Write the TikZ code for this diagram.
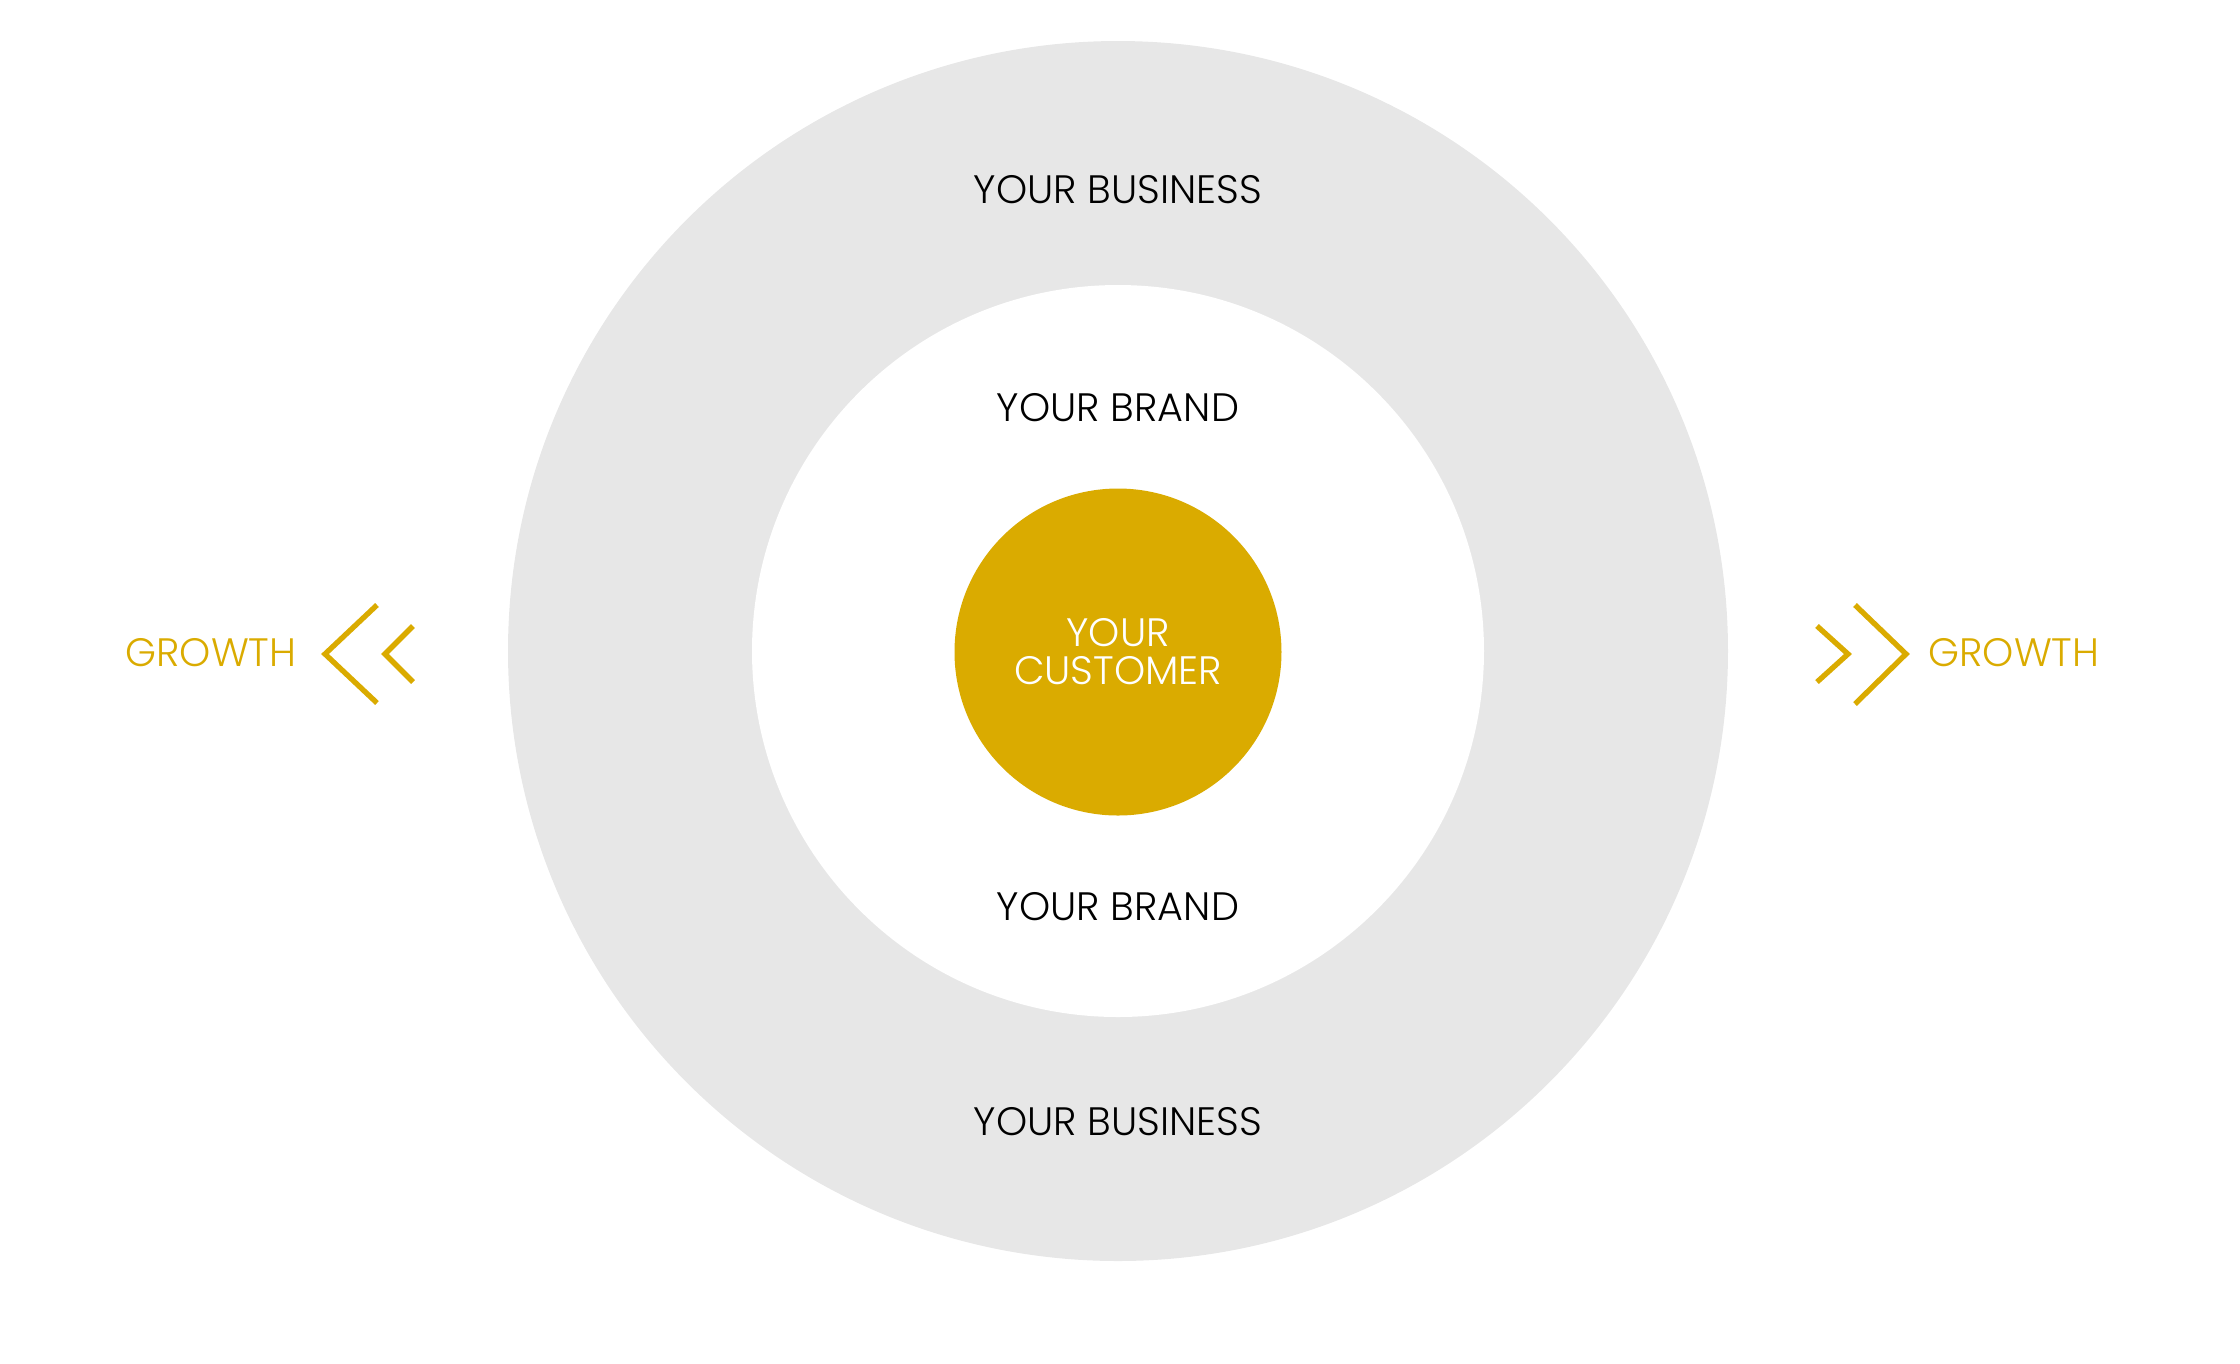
\documentclass[tikz,border=0pt]{standalone}
\usepackage{fontspec}
\setmainfont{Poppins Light}
\usepackage{xcolor}
\usetikzlibrary{positioning, calc}
\definecolor{gold}{HTML}{DAAB00}
\definecolor{ringgrey}{HTML}{E7E7E7}

\begin{document}
\begin{tikzpicture}[x=0.3pt, y=-0.3pt,
        txt/.style={font=\fontsize{11.9}{11.4}\selectfont, align=center, inner sep=0pt},
        chev/.style={draw=gold, line width=1.6pt, miter limit=10}]
        \useasboundingbox (0,0) rectangle (2240,1363);

        \node[circle, fill=ringgrey, minimum size=366pt, inner sep=0pt] at (1118,651) (business) {};
        \node[circle, fill=white, minimum size=219.6pt, inner sep=0pt] at (1118,651) (brand) {};
        \node[circle, fill=gold, minimum size=98.1pt, inner sep=0pt, txt, text=white] at (1118,652) (customer) {YOUR\\CUSTOMER};

        \node[txt] at (1118,190) (bus1) {YOUR BUSINESS};
        \node[txt] at (1118,408) (brand1) {YOUR BRAND};
        \node[txt] at (1118,907) (brand2) {YOUR BRAND};
        \node[txt] at (1118,1122) (bus2) {YOUR BUSINESS};

        \node[txt, text=gold] at (211,653) (growthL) {GROWTH};
        \draw[chev] (377,605) -- (325,654) -- (377,703);
        \draw[chev] (413,626) -- (385,654) -- (413,682);

        \node[txt, text=gold] at (2014,653) (growthR) {GROWTH};
        \draw[chev] (1817,626) -- (1848,654) -- (1817,682);
        \draw[chev] (1855,605) -- (1906,654) -- (1855,704);
    \end{tikzpicture}
\end{document}
